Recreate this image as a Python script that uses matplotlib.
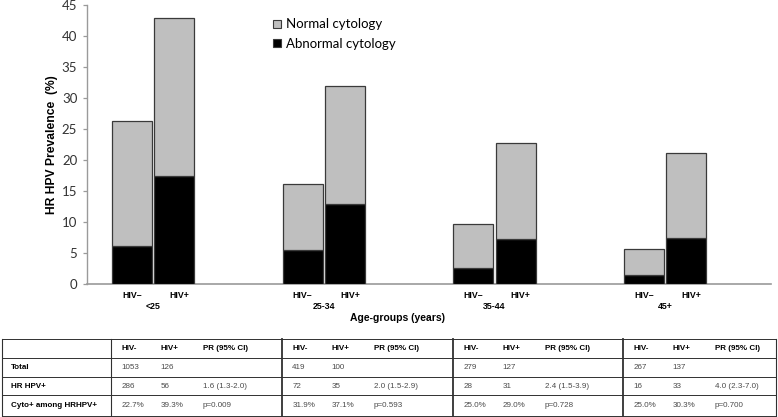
import numpy as np
import matplotlib
matplotlib.use("Agg")
import matplotlib.pyplot as plt
from matplotlib.patches import Patch

# ---------------- data ----------------
age_groups = ['<25', '25-34', '35-44', '45+']
hiv_labels = ['HIV\u2013', 'HIV+']
abnormal_neg = [6.2, 5.6, 2.6, 1.5]
normal_neg = [20.1, 10.6, 7.2, 4.2]
abnormal_pos = [17.4, 13.0, 7.3, 7.4]
normal_pos = [25.5, 19.0, 15.5, 13.7]
y_ticks = [0, 5, 10, 15, 20, 25, 30, 35, 40, 45]
legend_labels = ['Normal cytology', 'Abnormal cytology']

row_labels = ['Total', 'HR HPV+', 'Cyto+ among HRHPV+']
col_headers = ['HIV-', 'HIV+', 'PR (95% CI)']
total_neg = ['1053', '419', '279', '267']
total_pos = ['126', '100', '127', '137']
hrhpv_neg = ['286', '72', '28', '16']
hrhpv_pos = ['56', '35', '31', '33']
pr_ci = ['1.6 (1.3-2.0)', '2.0 (1.5-2.9)', '2.4 (1.5-3.9)', '4.0 (2.3-7.0)']
cyto_neg = ['22.7%', '31.9%', '25.0%', '25.0%']
cyto_pos = ['39.3%', '37.1%', '29.0%', '30.3%']
p_values = ['p=0.009', 'p=0.593', 'p=0.728', 'p=0.700']

# ---------------- figure ----------------
W, H = 778, 417
fig = plt.figure(figsize=(W / 100, H / 100), dpi=100)
fig.patch.set_facecolor('white')

ax_l, ax_r, ax_b, ax_t = 87, 771, 284.4, 5.0
ax = fig.add_axes([ax_l / W, 1 - ax_b / H, (ax_r - ax_l) / W, (ax_b - ax_t) / H])

x = np.arange(len(age_groups))
off = 0.124
bw = 0.235
edge = '#3a3a3a'
gray = '#bfbfbf'
ax.bar(x - off, abnormal_neg, width=bw, color='black', edgecolor=edge, lw=0.9, zorder=3)
ax.bar(x - off, normal_neg, width=bw, bottom=abnormal_neg, color=gray, edgecolor=edge, lw=0.9, zorder=3)
ax.bar(x + off, abnormal_pos, width=bw, color='black', edgecolor=edge, lw=0.9, zorder=3)
ax.bar(x + off, normal_pos, width=bw, bottom=abnormal_pos, color=gray, edgecolor=edge, lw=0.9, zorder=3)

ax.set_xlim(-0.387, 3.62)
ax.set_ylim(0, 45)
ax.set_yticks(y_ticks)
ax.set_yticklabels([str(v) for v in y_ticks], fontsize=9.5, family='Lato', color='#333333')
ax.tick_params(axis='y', length=3, width=0.9, color='#9a9a9a', pad=4)
ax.set_xticks([])
for s in ['top', 'right']:
    ax.spines[s].set_visible(False)
ax.spines['left'].set_color('#9a9a9a')
ax.spines['bottom'].set_color('#9a9a9a')
ax.spines['left'].set_linewidth(1.0)
ax.spines['bottom'].set_linewidth(1.2)
ax.patch.set_alpha(0)

ax.set_ylabel('HR HPV Prevalence  (%)', fontsize=8.7, fontweight='bold',
              family='Liberation Sans', labelpad=3)

pxu = (ax_b - ax_t) / 45.0
for i, g in enumerate(age_groups):
    ax.text(i - off, -(296 - ax_b) / pxu, hiv_labels[0], ha='center', va='center',
            fontsize=6.3, fontweight='bold', family='Liberation Sans', clip_on=False)
    ax.text(i + off + 0.03, -(296 - ax_b) / pxu, hiv_labels[1], ha='center', va='center',
            fontsize=6.3, fontweight='bold', family='Liberation Sans', clip_on=False)
    ax.text(i, -(306.5 - ax_b) / pxu, g, ha='center', va='center',
            fontsize=6.3, fontweight='bold', family='Liberation Sans', clip_on=False)
ax.text(1.43, -(318 - ax_b) / pxu, 'Age-groups (years)', ha='center', va='center',
        fontsize=7.5, fontweight='bold', family='Liberation Sans', clip_on=False)

handles = [Patch(facecolor=gray, edgecolor=edge, lw=0.8),
           Patch(facecolor='black', edgecolor=edge, lw=0.8)]
ax.legend(handles, legend_labels, loc='upper left', bbox_to_anchor=(0.272, 0.952),
          frameon=False, handlelength=0.6, handleheight=0.6, handletextpad=0.35,
          labelspacing=0.55, borderpad=0, borderaxespad=0,
          prop={'family': 'Lato', 'size': 9.5})

# ---------------- table ----------------
tx = fig.add_axes([0, 0, 1, 1])
tx.set_xlim(0, W)
tx.set_ylim(H, 0)
tx.axis('off')

row_y = [339.3, 358.0, 376.7, 395.4, 415.5]
group_x = [111.0, 281.7, 452.7, 622.7, 776.0]
left_x = 2.5
line_c = '#303030'
for yy in row_y:
    tx.plot([left_x, group_x[-1]], [yy, yy], color=line_c, lw=0.7)
tx.plot([left_x, left_x], [row_y[0], row_y[-1]], color=line_c, lw=0.8)
for i, gx in enumerate(group_x):
    tx.plot([gx, gx], [row_y[0], row_y[-1]], color=line_c, lw=1.3 if 0 < i < 4 else 0.8)

centers = [(row_y[i] + row_y[i + 1]) / 2 for i in range(4)]
fs = 5.8
for r, lab in enumerate(row_labels):
    tx.text(11, centers[r + 1], lab, ha='left', va='center', fontsize=fs,
            fontweight='bold', family='Liberation Sans')

col_off = [10.5, 49.5, 92]
body = [
    [total_neg, total_pos, None],
    [hrhpv_neg, hrhpv_pos, pr_ci],
    [cyto_neg, cyto_pos, p_values],
]
for g in range(4):
    gx = group_x[g]
    for c, h in enumerate(col_headers):
        tx.text(gx + col_off[c], centers[0], h, ha='left', va='center', fontsize=fs,
                fontweight='bold', family='Liberation Sans')
    for r, row in enumerate(body):
        for c, arr in enumerate(row):
            if arr is None:
                continue
            tx.text(gx + col_off[c], centers[r + 1], arr[g], ha='left', va='center',
                    fontsize=fs, family='Liberation Sans', color='#4a4a4a')

fig.savefig('out.png', dpi=100, facecolor='white')
